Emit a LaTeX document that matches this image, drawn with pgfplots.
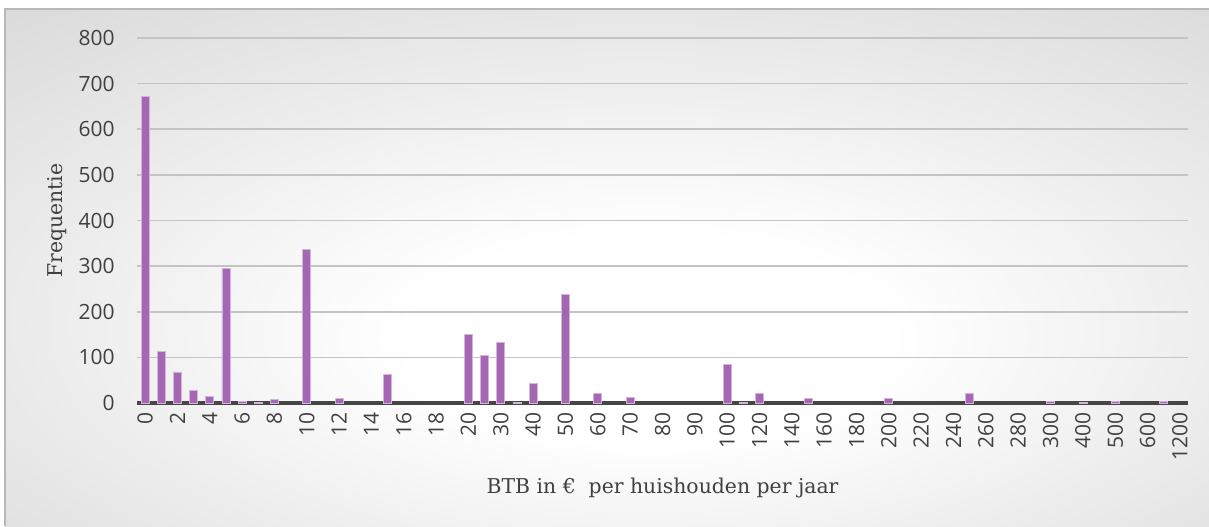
\documentclass[border=0pt]{standalone}
\usepackage{pgfplots}
\pgfplotsset{compat=1.18}
\usepackage{fontspec}
\setmainfont{DejaVu Serif}
\newfontfamily\tickfont{Open Sans}
\definecolor{barfill}{RGB}{165,102,180}
\definecolor{baredge}{RGB}{210,180,220}
\definecolor{axisdark}{RGB}{70,70,70}
\definecolor{gridc}{RGB}{196,196,196}
\definecolor{txt}{RGB}{64,64,64}
\pgfdeclareradialshading{bgshade}{\pgfpoint{2bp}{-8bp}}{color(0bp)=(white); color(10bp)=(white); color(48bp)=(black!19); color(75bp)=(black!23)}
\begin{document}
\begin{tikzpicture}
\useasboundingbox (-68.5pt,-61.5pt) rectangle (536pt,201.5pt);
\shade[shading=bgshade] (-66pt,-61.5pt) rectangle (536pt,197pt);
\draw[black!28, line width=0.6pt] (-66pt,-61.5pt) -- (-66pt,197pt) -- (536pt,197pt);
\begin{axis}[
  at={(0,0)}, anchor=south west,
  scale only axis, width=525.5pt, height=182.5pt,
  xmin=-0.5, xmax=64.5, ymin=0, ymax=800,
  ybar, bar width=4pt,
  axis x line*=bottom, axis y line*=left,
  y axis line style={draw=none},
  x axis line style={line width=1.6pt, draw=axisdark, -},
  major tick length=0pt, tick style={draw=none},
  ytick={0,100,...,800},
  ymajorgrids, grid style={gridc, line width=0.8pt},
  xtick={0,2,...,64},
  xticklabels={0,2,4,6,8,10,12,14,16,18,20,30,40,50,60,70,80,90,100,120,140,160,180,200,220,240,260,280,300,400,500,600,1200},
  /pgf/number format/assume math mode=true,
  xticklabel style={rotate=90, anchor=east, inner sep=0pt, font=\tickfont\fontsize{10.5pt}{12pt}\selectfont, text=txt},
  xticklabel shift=4.5pt,
  yticklabel style={anchor=east, inner sep=0pt, font=\tickfont\fontsize{10.5pt}{12pt}\selectfont, text=txt},
  yticklabel shift=11pt,
  xlabel={BTB in €\ \ per huishouden per jaar},
  ylabel={Frequentie},
  every axis x label/.style={at={([yshift=-42.5pt]rel axis cs:0.5,0)}, anchor=center, font=\fontsize{10.2pt}{12pt}\selectfont, text=txt},
  every axis y label/.style={at={([xshift=-40pt]rel axis cs:0,0.5)}, rotate=90, anchor=center, font=\fontsize{10.2pt}{12pt}\selectfont, text=txt},
]
\addplot[fill=barfill, draw=baredge, line width=0.4pt] coordinates {
(0,672) (1,113) (2,68) (3,27) (4,15) (5,295) (6,3) (7,2) (8,7)
(10,337) (12,10) (15,62)
(20,150) (21,104) (22,133) (23,2) (24,42) (26,238) (28,20) (30,12)
(36,85) (37,2) (38,20) (41,10)
(46,10) (51,20) (56,3) (58,1) (60,4) (63,3)
};
\end{axis}
\end{tikzpicture}
\end{document}
